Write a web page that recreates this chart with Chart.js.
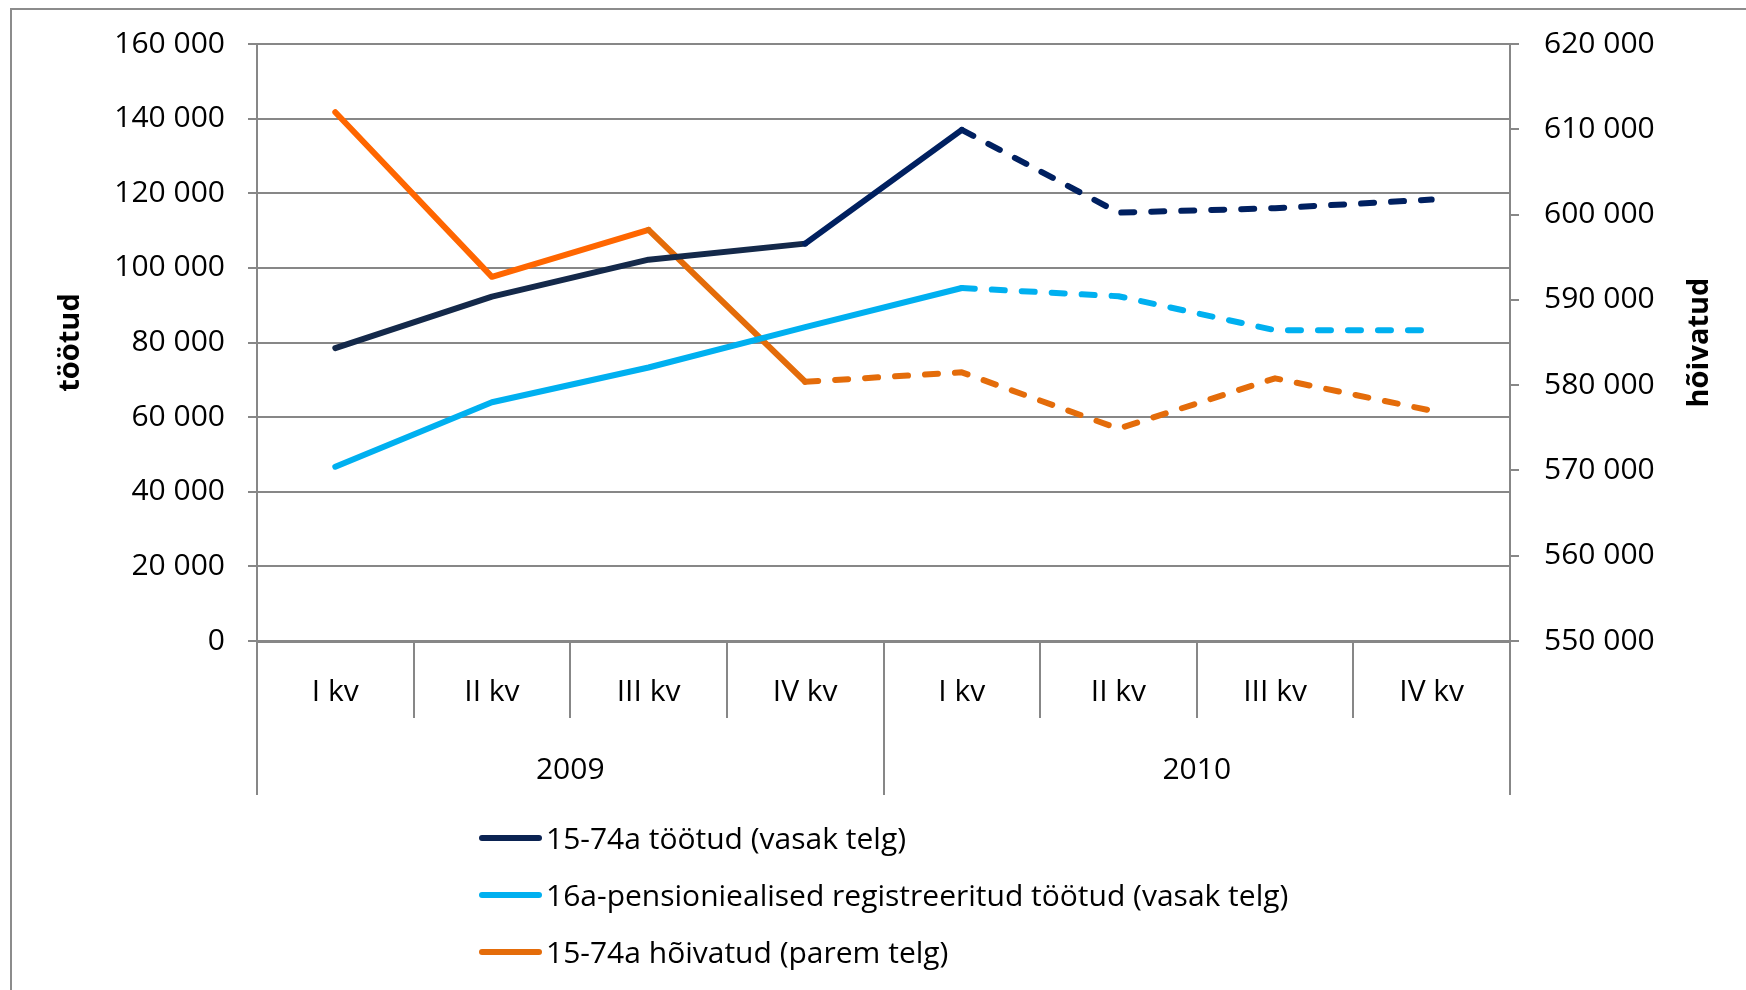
<!DOCTYPE html>
<html>
<head>
<meta charset="utf-8">
<script src="https://cdn.jsdelivr.net/npm/chart.js@4.4.1/dist/chart.umd.min.js"></script>
<style>
    html, body { margin: 0; padding: 0; background: #fff; overflow: hidden; }
    #wrap { position: relative; width: 1746px; height: 990px; }
    #frame { position: absolute; left: 10px; top: 8px; width: 1800px; height: 1100px; border: 2px solid #8c8c8c; }
    #chart { position: absolute; left: 0; top: 0; }
    #legend { position: absolute; left: 479px; top: 809px; font-family: 'Open Sans', sans-serif; font-size: 30px; color: #000; }
    .item { display: flex; align-items: center; height: 57px; white-space: nowrap; }
    .swatch { width: 63px; height: 6px; border-radius: 3px; margin-right: 4px; }
</style>
</head>
<body>
<div id="wrap">
    <div id="frame"></div>
    <canvas id="chart" width="1746" height="990"></canvas>
    <div id="legend"></div>
</div>
<script>
// kvartalid ja aastad
const quarters = ['I kv', 'II kv', 'III kv', 'IV kv', 'I kv', 'II kv', 'III kv', 'IV kv'];
const years = ['2009', '2010'];

// 15-74a töötud (vasak telg)
const unemployed = [78500, 92300, 102200, 106500, 137000, 114800, 116000, 118300];
// 16a-pensioniealised registreeritud töötud (vasak telg)
const registered = [46700, 64000, 73300, 84100, 94600, 92400, 83300, 83300];
// 15-74a hõivatud (parem telg)
const employed = [612000, 592700, 598200, 580400, 581500, 574900, 580800, 577000];

const seriesNames = ['15-74a töötud (vasak telg)', '16a-pensioniealised registreeritud töötud (vasak telg)', '15-74a hõivatud (parem telg)'];
// from which point the line is a forecast (dashed)
const dashFrom = [4, 4, 3];

const leftAxis = { min: 0, max: 160000, step: 20000 };
const rightAxis = { min: 550000, max: 620000, step: 10000 };

const grey = '#878787';
const fontFamily = "'Open Sans', sans-serif";

function fmt(v) {
    return String(v).replace(/\B(?=(\d{3})+(?!\d))/g, ' ');
}

function seg(from, solidColor, dashColor) {
    return {
        borderDash: ctx => ctx.p0DataIndex >= from ? [13, 17] : undefined,
        borderColor: ctx => ctx.p0DataIndex >= from - 1 ? dashColor : solidColor
    };
}

const rightTitle = {
    id: 'rightTitle',
    afterDraw(chart) {
        const s = chart.scales.y1;
        const c = chart.ctx;
        c.save();
        c.translate(s.right - 46, (s.top + s.bottom) / 2);
        c.rotate(-Math.PI / 2);
        c.font = "bold 29px " + fontFamily;
        c.fillStyle = '#000';
        c.textAlign = 'center';
        c.textBaseline = 'middle';
        c.fillText('hõivatud', 0, 0);
        c.restore();
    }
};

const ctx = document.getElementById('chart').getContext('2d');
const chart = new Chart(ctx, {
    type: 'line',
    data: {
        labels: quarters,
        datasets: [
            {
                label: seriesNames[0],
                data: unemployed,
                yAxisID: 'y',
                borderColor: '#0b2352',
                borderWidth: 6,
                segment: seg(dashFrom[0], '#14294a', '#002060')
            },
            {
                label: seriesNames[1],
                data: registered,
                yAxisID: 'y',
                borderColor: '#00b0f0',
                borderWidth: 6,
                segment: seg(dashFrom[1], '#00b0f0', '#00b0f0')
            },
            {
                label: seriesNames[2],
                data: employed,
                yAxisID: 'y1',
                borderColor: '#e46c0a',
                borderWidth: 6,
                segment: seg(dashFrom[2], '#ff6600', '#e46c0a')
            }
        ]
    },
    options: {
        responsive: false,
        animation: false,
        layout: { padding: { left: 0, right: 0, top: 44, bottom: 195 } },
        elements: {
            point: { radius: 0, hoverRadius: 0 },
            line: { tension: 0, borderCapStyle: 'round', borderJoinStyle: 'round' }
        },
        plugins: {
            legend: { display: false },
            tooltip: { enabled: false }
        },
        scales: {
            x: {
                type: 'category',
                position: 'bottom',
                weight: 0,
                offset: true,
                grid: { offset: true, drawOnChartArea: false, tickLength: 77, color: grey, lineWidth: 2 },
                border: { display: true, color: grey, width: 3 },
                ticks: { color: '#000', padding: -44, maxRotation: 0, autoSkip: false, font: { family: fontFamily, size: 30 } },
                afterFit: s => { s.height = 77; }
            },
            x2: {
                type: 'category',
                position: 'bottom',
                weight: 1,
                labels: years,
                offset: true,
                grid: { offset: true, drawOnChartArea: false, tickLength: 77, color: grey, lineWidth: 2 },
                border: { display: false },
                ticks: { color: '#000', padding: -43, maxRotation: 0, font: { family: fontFamily, size: 30 } },
                afterFit: s => { s.height = 77; }
            },
            y: {
                position: 'left',
                min: leftAxis.min,
                max: leftAxis.max,
                ticks: { stepSize: leftAxis.step, color: '#000', padding: 23, callback: v => fmt(v), font: { family: fontFamily, size: 30 } },
                grid: { color: grey, lineWidth: 2, tickLength: 9 },
                border: { color: grey, width: 2 },
                title: { display: true, text: 'töötud', color: '#000', padding: { top: 53 }, font: { family: fontFamily, size: 29, weight: 'bold' } },
                afterFit: s => { s.width = 257; }
            },
            y1: {
                position: 'right',
                min: rightAxis.min,
                max: rightAxis.max,
                ticks: { stepSize: rightAxis.step, color: '#000', padding: 25, callback: v => fmt(v), font: { family: fontFamily, size: 30 } },
                grid: { drawOnChartArea: false, color: grey, lineWidth: 2, tickLength: 9 },
                border: { color: grey, width: 2 },
                afterFit: s => { s.width = 236; }
            }
        }
    },
    plugins: [rightTitle]
});

// legend below the chart, one series per row
const legend = document.getElementById('legend');
chart.data.datasets.forEach(ds => {
    const row = document.createElement('div');
    row.className = 'item';
    const sw = document.createElement('span');
    sw.className = 'swatch';
    sw.style.background = ds.borderColor;
    const txt = document.createElement('span');
    txt.textContent = ds.label;
    row.appendChild(sw);
    row.appendChild(txt);
    legend.appendChild(row);
});
</script>
</body>
</html>
